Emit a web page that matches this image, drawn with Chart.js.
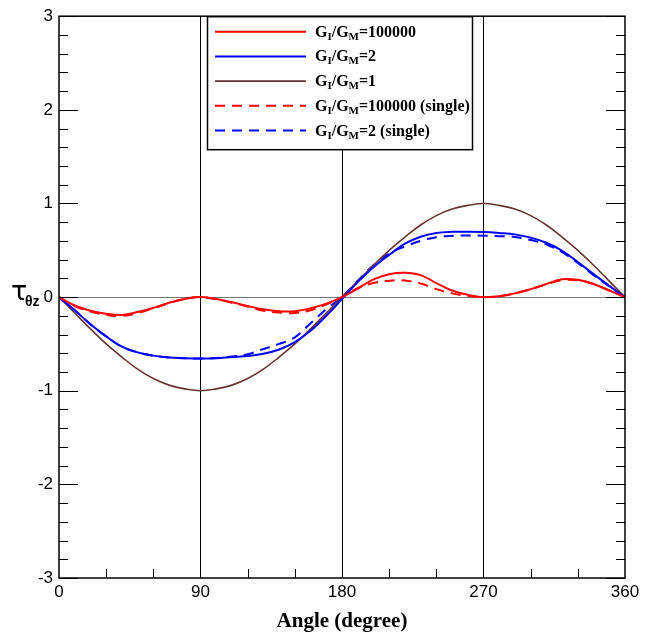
<!DOCTYPE html>
<html>
<head>
<meta charset="utf-8">
<script src="https://cdn.jsdelivr.net/npm/chart.js@4.4.1/dist/chart.umd.min.js"></script>
<style>
html, body { margin: 0; padding: 0; background: #fff; }
#wrap { width: 659px; height: 635px; }
</style>
</head>
<body>
<div id="wrap"><canvas id="tauChart"></canvas></div>
<script>
// Angle (degree) samples
const angles = [0, 10, 20, 30, 40, 50, 60, 70, 80, 90, 100, 110, 120, 130, 140, 150, 160, 170, 180,
  190, 200, 210, 220, 230, 240, 250, 260, 270, 280, 290, 300, 310, 320, 330, 340, 350, 360];

// tau_theta_z
const tauG100000 = [0, -0.09, -0.145, -0.178, -0.19, -0.16, -0.115, -0.06, -0.02, 0, -0.02, -0.055, -0.095,
  -0.13, -0.15, -0.15, -0.12, -0.07, 0, 0.09, 0.19, 0.245, 0.26, 0.235, 0.15, 0.07, 0.024, 0,
  0.01, 0.04, 0.085, 0.14, 0.19, 0.185, 0.14, 0.07, 0];
const tauG2 = [0, -0.14, -0.29, -0.42, -0.53, -0.59, -0.625, -0.645, -0.652, -0.655, -0.652, -0.64, -0.63,
  -0.605, -0.56, -0.48, -0.36, -0.2, -0.02, 0.16, 0.32, 0.45, 0.57, 0.645, 0.685, 0.697, 0.698, 0.695,
  0.685, 0.67, 0.635, 0.58, 0.495, 0.375, 0.245, 0.12, 0];
const tauG1 = [0, -0.17, -0.34, -0.5, -0.64, -0.77, -0.87, -0.94, -0.98, -1.0, -0.98, -0.94, -0.87,
  -0.77, -0.64, -0.5, -0.34, -0.17, 0, 0.17, 0.34, 0.5, 0.64, 0.77, 0.87, 0.94, 0.98, 1.0,
  0.98, 0.94, 0.87, 0.77, 0.64, 0.5, 0.34, 0.17, 0];
const tauG100000Single = [0, -0.095, -0.155, -0.19, -0.2, -0.17, -0.12, -0.065, -0.02, 0, -0.025, -0.06, -0.1,
  -0.145, -0.165, -0.17, -0.14, -0.08, 0, 0.095, 0.15, 0.175, 0.177, 0.145, 0.085, 0.04, 0.012, 0,
  0.01, 0.04, 0.085, 0.135, 0.18, 0.18, 0.14, 0.07, 0];
const tauG2Single = [0, -0.14, -0.29, -0.42, -0.53, -0.59, -0.625, -0.645, -0.652, -0.655, -0.65, -0.635, -0.61,
  -0.555, -0.5, -0.43, -0.28, -0.13, 0, 0.175, 0.34, 0.465, 0.54, 0.6, 0.64, 0.655, 0.658, 0.656,
  0.65, 0.643, 0.61, 0.562, 0.48, 0.365, 0.235, 0.115, 0];

// Labels ("_X" = subscript character)
const seriesLabels = ["G_I/G_M=100000", "G_I/G_M=2", "G_I/G_M=1", "G_I/G_M=100000 (single)", "G_I/G_M=2 (single)"];

// Axis ticks
const xTickLabels = [0, 90, 180, 270, 360];
const xMinorTicks = [30, 60, 120, 150, 210, 240, 300, 330];
const yTickLabels = [-3, -2, -1, 0, 1, 2, 3];

const RED = "#ff0000", BLUE = "#0000ff", BROWN = "#663333";
const DASH = [10, 7];

function series(label, values, color, dash, width) {
    return {
        label: label,
        data: angles.map((a, i) => ({ x: a, y: values[i] })),
        borderColor: color,
        borderWidth: width,
        borderDash: dash,
        pointRadius: 0,
        fill: false,
        tension: 0.4
    };
}

// draw text with single-character subscripts
function drawRich(ctx, text, x, y, size) {
    const parts = text.split(/_(.)/);
    parts.forEach((p, i) => {
        const sub = i % 2 === 1;
        ctx.font = "bold " + (sub ? Math.round(size * 0.68) : size) + "px 'Liberation Serif', 'Times New Roman', serif";
        ctx.fillText(p, x, sub ? y + 3 : y);
        x += ctx.measureText(p).width;
    });
}

// inward ticks on the frame + frame box
const frameTicks = {
    id: "frameTicks",
    afterDatasetsDraw(chart) {
        const { ctx, chartArea: a, scales: { x, y } } = chart;
        ctx.save();
        ctx.strokeStyle = "#000";
        ctx.lineWidth = 1;
        ctx.beginPath();
        for (let i = 0; i <= 30; i++) {
            const py = Math.round(y.getPixelForValue(-3 + i * 0.2)) + 0.5;
            const len = i % 5 === 0 ? 19 : 9;
            ctx.moveTo(a.left, py); ctx.lineTo(a.left + len, py);
            ctx.moveTo(a.right, py); ctx.lineTo(a.right - len, py);
        }
        xMinorTicks.forEach(v => {
            const px = Math.round(x.getPixelForValue(v)) + 0.5;
            ctx.moveTo(px, a.bottom); ctx.lineTo(px, a.bottom - 9);
        });
        ctx.stroke();
        ctx.lineWidth = 1.5;
        ctx.strokeRect(a.left, a.top, a.right - a.left, a.bottom - a.top);
        ctx.restore();
    }
};

// boxed legend with subscripts
const boxLegend = {
    id: "boxLegend",
    afterDraw(chart) {
        const { ctx, chartArea: a } = chart;
        const left = a.left + 148, top = a.top;
        ctx.save();
        ctx.fillStyle = "#fff";
        ctx.fillRect(left, top, 265, 133);
        ctx.strokeStyle = "#000";
        ctx.lineWidth = 1.5;
        ctx.strokeRect(left + 0.5, top + 0.5, 265, 133);
        chart.data.datasets.forEach((ds, i) => {
            const ly = top + 15.5 + i * 24.7;
            ctx.beginPath();
            ctx.strokeStyle = ds.borderColor;
            ctx.lineWidth = ds.borderWidth;
            ctx.setLineDash(ds.borderDash);
            ctx.moveTo(left + 8, ly);
            ctx.lineTo(left + 99, ly);
            ctx.stroke();
            ctx.setLineDash([]);
            ctx.fillStyle = "#000";
            ctx.textBaseline = "alphabetic";
            drawRich(ctx, ds.label, left + 108, ly + 5, 16);
        });

        // y axis title: tau with subscript theta z
        ctx.fillStyle = "#000";
        const cy = chart.scales.y.getPixelForValue(0);
        ctx.font = "27px 'DejaVu Sans', 'Liberation Sans', sans-serif";
        ctx.fillText("τ", a.left - 48, cy + 3);
        ctx.font = "bold 14px 'Liberation Sans', Arial, sans-serif";
        ctx.fillText("θz", a.left - 34, cy + 9);
        ctx.restore();
    }
};

document.addEventListener("DOMContentLoaded", () => {
    const ctx = document.getElementById("tauChart").getContext("2d");
    new Chart(ctx, {
        type: "line",
        data: {
            datasets: [
                series(seriesLabels[0], tauG100000, RED, [], 2),
                series(seriesLabels[1], tauG2, BLUE, [], 2),
                series(seriesLabels[2], tauG1, BROWN, [], 1.6),
                series(seriesLabels[3], tauG100000Single, RED, DASH, 2),
                series(seriesLabels[4], tauG2Single, BLUE, DASH, 2)
            ]
        },
        options: {
            responsive: true,
            maintainAspectRatio: false,
            animation: false,
            devicePixelRatio: 1,
            layout: { padding: { top: 14, right: 34, left: 0, bottom: 0 } },
            plugins: { legend: { display: false }, tooltip: { enabled: false } },
            scales: {
                x: {
                    type: "linear",
                    min: 0,
                    max: 360,
                    afterBuildTicks: s => { s.ticks = xTickLabels.map(v => ({ value: v })); },
                    afterFit: s => { s.height = 57; },
                    ticks: {
                        autoSkip: false,
                        maxRotation: 0,
                        padding: 4,
                        color: "#000",
                        font: { family: "'Liberation Sans', Arial, sans-serif", size: 17 }
                    },
                    grid: {
                        drawTicks: false,
                        lineWidth: 1,
                        color: c => (c.tick && [90, 180, 270].includes(c.tick.value)) ? "#000" : "rgba(0,0,0,0)"
                    },
                    border: { display: false },
                    title: {
                        display: true,
                        text: "Angle (degree)",
                        color: "#000",
                        padding: { top: 0, bottom: 1 },
                        font: { family: "'Liberation Serif', 'Times New Roman', serif", size: 21, weight: "bold" }
                    }
                },
                y: {
                    min: -3,
                    max: 3,
                    afterBuildTicks: s => { s.ticks = yTickLabels.map(v => ({ value: v })); },
                    afterFit: s => { s.width = 59; },
                    ticks: {
                        padding: 6,
                        color: "#000",
                        font: { family: "'Liberation Sans', Arial, sans-serif", size: 17 }
                    },
                    grid: {
                        drawTicks: false,
                        lineWidth: 1,
                        color: c => (c.tick && c.tick.value === 0) ? "#777" : "rgba(0,0,0,0)"
                    },
                    border: { display: false }
                }
            }
        },
        plugins: [frameTicks, boxLegend]
    });
});
</script>
</body>
</html>
